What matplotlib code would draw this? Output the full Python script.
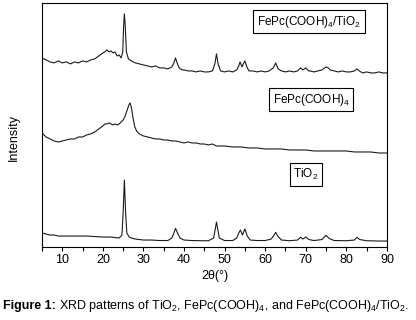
import matplotlib.pyplot as plt
from matplotlib.ticker import MultipleLocator

plt.rcParams['font.family'] = ['Liberation Sans', 'DejaVu Sans']
plt.rcParams['mathtext.fontset'] = 'custom'
plt.rcParams['mathtext.rm'] = 'Liberation Sans'

# FePc(COOH)4/TiO2 (offset top trace)
comp_x = [5, 6, 7, 8, 9, 10, 11, 12, 13, 14, 15, 16, 17, 18, 19, 20, 20.5, 21, 21.5, 22,
          22.5, 23, 23.5, 24, 24.5, 24.9, 25.1, 25.3, 25.5, 25.8, 26.3, 27, 28, 29, 30, 31,
          32, 33, 34, 35, 36, 37, 37.5, 37.9, 38.3, 38.8, 39.5, 40, 41, 42, 43, 44, 45, 46,
          47, 47.6, 48.0, 48.4, 49, 50, 51, 52, 53, 53.5, 53.8, 54.3, 54.6, 55.0, 55.5, 56,
          57, 58, 59, 60, 61, 62, 62.6, 63.2, 64, 65, 66, 67, 68, 68.7, 69.3, 70.0, 70.7, 71,
          72, 73, 74, 75, 75.6, 76, 77, 78, 79, 80, 81, 82, 82.6, 83.2, 84, 85, 86, 87, 88,
          89, 90]
comp_y = [189, 187, 185, 184, 186, 184, 185, 183, 185, 184, 186, 185, 187, 188, 191, 194,
          195, 197, 195, 196, 194, 195, 191, 192, 189, 195, 220, 233, 222, 195, 188, 186,
          184, 183, 182, 181, 180, 181, 179, 179, 178, 180, 184, 189, 184, 179, 177, 177,
          176, 176, 175, 176, 175, 175, 176, 183, 193, 183, 176, 175, 176, 175, 177, 181,
          185, 180, 183, 186, 180, 176, 176, 175, 176, 175, 176, 179, 184, 178, 176, 175,
          176, 175, 176, 179, 177, 179, 176, 176, 175, 176, 177, 180, 179, 177, 176, 175,
          176, 175, 175, 176, 178, 176, 174, 175, 174, 174, 175, 174, 174]

# FePc(COOH)4 (middle trace)
fepc_x = [5, 6, 7, 8, 9, 10, 11, 12, 13, 14, 15, 16, 17, 18, 19, 20, 20.5, 21, 21.5, 22,
          22.5, 23, 23.5, 24, 24.5, 25, 25.5, 26, 26.4, 26.7, 27, 27.4, 27.8, 28.3, 29, 30,
          31, 32, 33, 34, 35, 36, 37, 38, 39, 40, 41, 42, 43, 44, 45, 46, 47, 48, 49, 50,
          52, 54, 56, 58, 60, 62, 64, 66, 68, 70, 72, 74, 76, 78, 80, 82, 84, 86, 88, 90]
fepc_y = [114, 110, 108, 106, 105, 106, 107, 108, 108, 110, 110, 112, 113, 115, 118, 121,
          123, 123, 124, 123, 122, 123, 122, 123, 125, 127, 131, 137, 142, 144, 140, 130,
          121, 116, 113, 111, 110, 109, 108, 108, 107, 107, 106, 106, 105, 104, 105, 104,
          104, 103, 103, 102, 103, 101, 101, 101, 100, 100, 99, 99, 98, 98, 98, 97, 97, 97,
          96, 96, 96, 96, 96, 95, 95, 95, 94, 94]

# TiO2 (bottom trace)
tio2_x = [5, 6, 7, 8, 9, 10, 12, 14, 16, 18, 20, 22, 23, 24, 24.7, 25.0, 25.3, 25.6, 25.9,
          26.5, 27, 28, 30, 32, 34, 36, 37, 37.5, 37.9, 38.4, 39, 40, 42, 44, 46, 47.3,
          47.7, 48.0, 48.3, 48.7, 50, 52, 53, 53.5, 53.9, 54.4, 55.0, 55.6, 56.3, 58, 60,
          61.5, 62.2, 62.6, 63.1, 64, 66, 68, 68.7, 69.3, 70.0, 70.8, 72, 74, 75.0, 75.8,
          77, 80, 82, 82.6, 83.3, 85, 88, 90]
tio2_y = [14, 13, 12, 12, 11, 11, 11, 11, 11, 10.5, 10, 10, 9.5, 9, 12, 35, 67, 35, 14,
          10, 9, 8, 7, 7, 6.5, 6.5, 9, 14, 18.7, 14, 9, 7, 6.5, 6.3, 6.3, 9, 18, 25, 18, 9,
          6.5, 6.5, 9, 14, 17, 12, 18, 11, 7, 6.5, 6.5, 8, 12, 14.7, 11, 7, 6.3, 7, 9.7, 8,
          10, 7.5, 6.5, 7.5, 11.7, 8.5, 6.5, 6.3, 7, 9.7, 7.5, 6.3, 6, 6]

labels = ['FePc(COOH)$_\\mathregular{4}$/TiO$_\\mathregular{2}$',
          'FePc(COOH)$_\\mathregular{4}$',
          'TiO$_\\mathregular{2}$']

fig = plt.figure(figsize=(4.16, 3.2), dpi=100)
ax = fig.add_axes([0.101, 0.228, 0.829, 0.763])

ax.plot(comp_x, comp_y, color='#1a1a1a', lw=0.8)
ax.plot(fepc_x, fepc_y, color='#1a1a1a', lw=0.8)
ax.plot(tio2_x, tio2_y, color='#1a1a1a', lw=0.8)

ax.set_xlim(5, 90)
ax.set_ylim(0, 244)
ax.xaxis.set_major_locator(MultipleLocator(10))
ax.xaxis.set_minor_locator(MultipleLocator(5))
ax.tick_params(axis='x', which='both', direction='out', length=3, width=0.8,
               labelsize=9, pad=2)
ax.set_yticks([])
for s in ax.spines.values():
    s.set_linewidth(0.8)

box = dict(boxstyle='square,pad=0.3', fc='white', ec='black', lw=0.8)
ax.text(70.8, 225, labels[0], fontsize=8.5, ha='center', va='center', bbox=box)
ax.text(71.4, 147, labels[1], fontsize=8.5, ha='center', va='center', bbox=box)
ax.text(70.0, 72.5, labels[2], fontsize=8.5, ha='center', va='center', bbox=box)

ax.set_xlabel('2θ(°)', fontsize=9, labelpad=3)
ax.set_ylabel('Intensity', fontsize=9, labelpad=6)
ax.yaxis.set_label_coords(-0.065, 0.45)

fig.text(0.008, 0.044, 'Figure 1:', fontsize=9, fontweight='bold', va='center')
fig.text(0.142, 0.044,
         'XRD patterns of TiO$_\\mathregular{2}$, FePc(COOH)$_\\mathregular{4}$, '
         'and FePc(COOH)$_\\mathregular{4}$/TiO$_\\mathregular{2}$.',
         fontsize=9, va='center')

fig.savefig('out.png', dpi=100)
